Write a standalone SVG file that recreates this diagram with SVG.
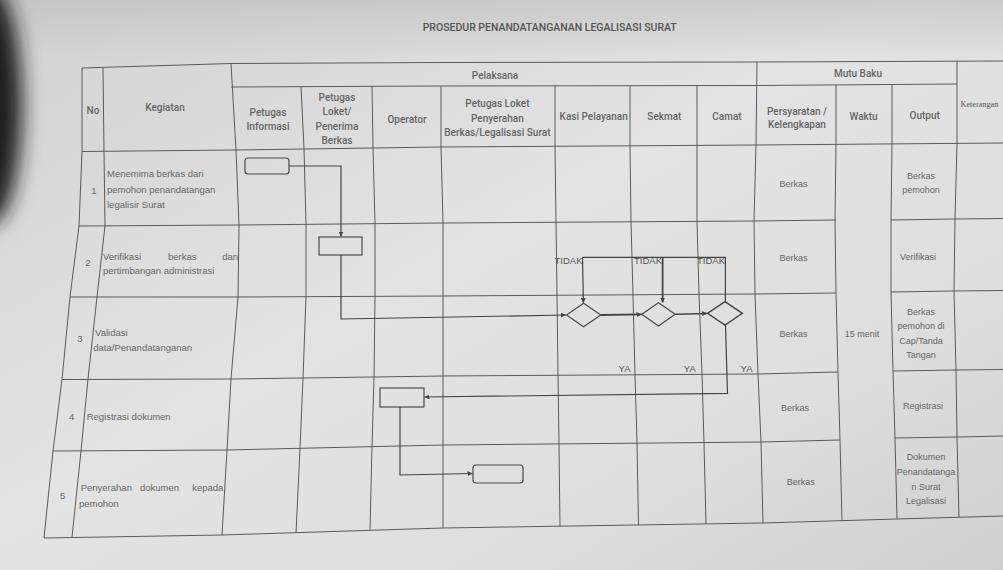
<svg xmlns="http://www.w3.org/2000/svg" width="1003" height="570" viewBox="0 0 1003 570">
<defs>
<linearGradient id="bg" x1="0" y1="0" x2="1" y2="1">
<stop offset="0" stop-color="#d2d2d2"/>
<stop offset="0.45" stop-color="#e3e3e3"/>
<stop offset="0.75" stop-color="#dedede"/>
<stop offset="1" stop-color="#cfcfcf"/>
</linearGradient>
<linearGradient id="topshade" x1="0" y1="0" x2="0" y2="1">
<stop offset="0" stop-color="#bdbdbd" stop-opacity="0.6"/>
<stop offset="1" stop-color="#bdbdbd" stop-opacity="0"/>
</linearGradient>
<filter id="blur" x="-1" y="-1" width="3" height="3"><feGaussianBlur stdDeviation="10"/></filter>
<marker id="arr" viewBox="0 0 10 10" refX="10" refY="5" markerWidth="5" markerHeight="5" markerUnits="userSpaceOnUse" orient="auto">
<path d="M0,0 L10,5 L0,10 z" fill="#444"/>
</marker>
<style>
.grid{fill:none;stroke:#5a5a5a;stroke-width:1}
.hd{font-family:Roboto,"Liberation Sans",sans-serif;font-weight:500;font-size:10px;fill:#666;text-anchor:middle}
.tx{font-family:"Liberation Sans",Arial,sans-serif;font-size:9.5px;fill:#666}
.cx{font-family:"Liberation Sans",Arial,sans-serif;font-size:9px;fill:#666;text-anchor:middle}
.lb{font-family:"Liberation Sans",Arial,sans-serif;font-size:9.5px;fill:#555}
.box{fill:none;stroke:#4a4a4a;stroke-width:1.2}
.con{fill:none;stroke:#444;stroke-width:1.2}
</style>
</defs>
<rect width="1003" height="570" fill="url(#bg)"/>
<rect width="1003" height="60" fill="url(#topshade)"/>
<ellipse cx="-10" cy="105" rx="32" ry="120" fill="#1e1e1e" filter="url(#blur)"/>

<text x="422.7" y="30.5" textLength="254" lengthAdjust="spacingAndGlyphs" style="font-family:Roboto,'Liberation Sans',sans-serif;font-weight:500;font-size:10.5px;fill:#555">PROSEDUR PENANDATANGANAN LEGALISASI SURAT</text>

<g id="table-grid" class="grid">
<polyline points="82,68 231,63.5 441,62.5 757,62 1003,61"/>
<polyline points="231,87 441,86 757,85.5 957,84"/>
<polyline points="82,151.5 236,150 441,147 757,145 1003,143"/>
<polyline points="79,226 239,225 443,223 754,221 836,220"/>
<polyline points="891,220 955,219 1003,218.5"/>
<polyline points="70,297 238,297 443,296 755,294 836,293"/>
<polyline points="891,292 954,291 1003,290.5"/>
<polyline points="62,379.5 231,379 443,376 758,374 838,372"/>
<polyline points="893,371 956,370 1003,369.5"/>
<polyline points="53,451 227,450 443,445 761,442 840,440"/>
<polyline points="895,438 957,437 1003,436"/>
<polyline points="44,538 222,535 443,528 763,523 897,519 1003,516"/>
<polyline points="82,68 82,151.5 79,226 70,297 62,379.5 53,451 44,538"/>
<polyline points="103,68 104,151.5 105,226 97,297 88,379 81,451 72,537"/>
<polyline points="231,63.5 236,150 239,225 238,297 231,379 227,450 222,535"/>
<polyline points="301,86.5 304,148.5 306,224.5 306,296.5 303,378 300,448 296,533"/>
<polyline points="372,86.5 373,148 375,224 375,296 374,377 372,446 370,531"/>
<polyline points="441,86 441,147 443,223 443,296 443,376 443,445 443,528"/>
<polyline points="555,85.7 555,146 556,222 557,295 558,375 559,444 560,526.5"/>
<polyline points="630,85.6 630,146 631,222 633,295 635,375 637,443 638.5,525"/>
<polyline points="697,85.5 697,145 697,221 699,294 702,374 704,443 706,524"/>
<polyline points="757,62 756,145 754,221 755,294 758,374 761,442 763,523"/>
<polyline points="836,85 836,144 835,220 836,293 838,372 840,440 842,521"/>
<polyline points="892,84.7 892,144 891,220 891,292 893,371 895,438 897,519"/>
<polyline points="957,61.3 957,143 955,219 954,291 956,370 957,437 959,517"/>
</g>

<g id="header">
<text class="hd" x="93" y="113.5">No</text>
<text class="hd" x="165" y="110.5">Kegiatan</text>
<text class="hd" x="268" y="115.5">Petugas</text>
<text class="hd" x="268" y="129.5">Informasi</text>
<text class="hd" x="337" y="100.5">Petugas</text>
<text class="hd" x="337" y="115">Loket/</text>
<text class="hd" x="337" y="129.5">Penerima</text>
<text class="hd" x="337" y="144">Berkas</text>
<text class="hd" x="407" y="122.5">Operator</text>
<text class="hd" x="495" y="78.5">Pelaksana</text>
<text class="hd" x="497.4" y="106.5">Petugas Loket</text>
<text class="hd" x="497.4" y="121.5">Penyerahan</text>
<text class="hd" x="497.4" y="136">Berkas/Legalisasi Surat</text>
<text class="hd" x="593.7" y="120">Kasi Pelayanan</text>
<text class="hd" x="664.4" y="120">Sekmat</text>
<text class="hd" x="727" y="120">Camat</text>
<text class="hd" x="858" y="76.5">Mutu Baku</text>
<text class="hd" x="797" y="115">Persyaratan /</text>
<text class="hd" x="797" y="127.5">Kelengkapan</text>
<text class="hd" x="863.6" y="120">Waktu</text>
<text class="hd" x="924.7" y="118.5">Output</text>
<text x="960.5" y="107" style="font-family:'Liberation Serif',serif;font-size:8.2px;fill:#555">Keterangan</text>
</g>

<g id="activities">
<text class="tx" x="94" y="193.5" text-anchor="middle">1</text>
<text class="tx" x="107" y="176.5">Menemima berkas dari</text>
<text class="tx" x="107" y="192.5">pemohon penandatangan</text>
<text class="tx" x="107" y="207.5">legalisir Surat</text>
<text class="tx" x="88" y="266" text-anchor="middle">2</text>
<text class="tx" x="103" y="260">Verifikasi</text>
<text class="tx" x="168" y="260">berkas</text>
<text class="tx" x="238" y="260" text-anchor="end">dan</text>
<text class="tx" x="103" y="274">pertimbangan administrasi</text>
<text class="tx" x="80" y="341.5" text-anchor="middle">3</text>
<text class="tx" x="95" y="335.5">Validasi</text>
<text class="tx" x="93.3" y="350.5">data/Penandatanganan</text>
<text class="tx" x="71.7" y="419.5" text-anchor="middle">4</text>
<text class="tx" x="86.7" y="419.5">Registrasi dokumen</text>
<text class="tx" x="62.7" y="498.5" text-anchor="middle">5</text>
<text class="tx" x="80.7" y="490.5">Penyerahan</text>
<text class="tx" x="140" y="490.5">dokumen</text>
<text class="tx" x="223.3" y="490.5" text-anchor="end">kepada</text>
<text class="tx" x="79" y="506.5">pemohon</text>
</g>

<g id="mutu-baku">
<text class="cx" x="793.6" y="186.5">Berkas</text>
<text class="cx" x="793.6" y="260.5">Berkas</text>
<text class="cx" x="793.6" y="336.5">Berkas</text>
<text class="cx" x="795" y="410.5">Berkas</text>
<text class="cx" x="800.8" y="485">Berkas</text>
<text class="cx" x="862" y="336.5">15 menit</text>
<text class="cx" x="921" y="178.5">Berkas</text>
<text class="cx" x="921" y="192.5">pemohon</text>
<text class="cx" x="918" y="260">Verifikasi</text>
<text class="cx" x="921" y="315">Berkas</text>
<text class="cx" x="921" y="329">pemohon di</text>
<text class="cx" x="921" y="343.5">Cap/Tanda</text>
<text class="cx" x="921" y="357.5">Tangan</text>
<text class="cx" x="923" y="409">Registrasi</text>
<text class="cx" x="926" y="460">Dokumen</text>
<text class="cx" x="926" y="475">Penandatanga</text>
<text class="cx" x="926" y="489.5">n Surat</text>
<text class="cx" x="926" y="504">Legalisasi</text>
</g>

<g id="node-start"><rect class="box" x="245" y="158" width="44" height="16" rx="3"/></g>
<g id="node-verifikasi"><rect class="box" x="319" y="237" width="43" height="18"/></g>
<g id="node-kasi"><polygon class="box" points="566.5,315 583.6,303.3 600.8,315 583.6,326.7"/></g>
<g id="node-sekmat"><polygon class="box" points="641.8,314.3 658.5,302.7 675.1,314.3 658.5,326"/></g>
<g id="node-camat"><polygon class="box" points="707.5,313.3 725,301.7 742.3,313.3 725,325" style="stroke-width:1.5"/></g>
<g id="node-registrasi"><rect class="box" x="380" y="388" width="44" height="19"/></g>
<g id="node-end"><rect class="box" x="473" y="465" width="50" height="18" rx="3"/></g>

<g id="connectors">
<polyline class="con" points="289,166 341,166 341,236.5" marker-end="url(#arr)"/>
<polyline class="con" points="341,255 341,319 566,315" marker-end="url(#arr)"/>
<line class="con" x1="600.8" y1="315" x2="641.5" y2="314.4" marker-end="url(#arr)" style="stroke-width:1.8"/>
<line class="con" x1="675.1" y1="314.2" x2="707.2" y2="313.4" marker-end="url(#arr)" style="stroke-width:1.5"/>
<polyline class="con" points="582.5,257.3 725.4,257.3 725.4,301.7"/>
<line class="con" x1="582.5" y1="257.3" x2="583.4" y2="303" marker-end="url(#arr)"/>
<line class="con" x1="662.6" y1="257.3" x2="662.6" y2="302.5" marker-end="url(#arr)" style="stroke-width:1.8"/>
<polyline class="con" points="725.5,325 727.5,393.3 424.5,397" marker-end="url(#arr)"/>
<polyline class="con" points="400,407 400,475 472.5,473.5" marker-end="url(#arr)"/>
<text class="lb" x="582.5" y="263.5" text-anchor="end">TIDAK</text>
<text class="lb" x="662" y="263.5" text-anchor="end">TIDAK</text>
<text class="lb" x="725" y="263.5" text-anchor="end">TIDAK</text>
<text class="lb" x="630.5" y="371.5" text-anchor="end">YA</text>
<text class="lb" x="695.8" y="371.5" text-anchor="end">YA</text>
<text class="lb" x="752.5" y="371.5" text-anchor="end">YA</text>
</g>
</svg>
